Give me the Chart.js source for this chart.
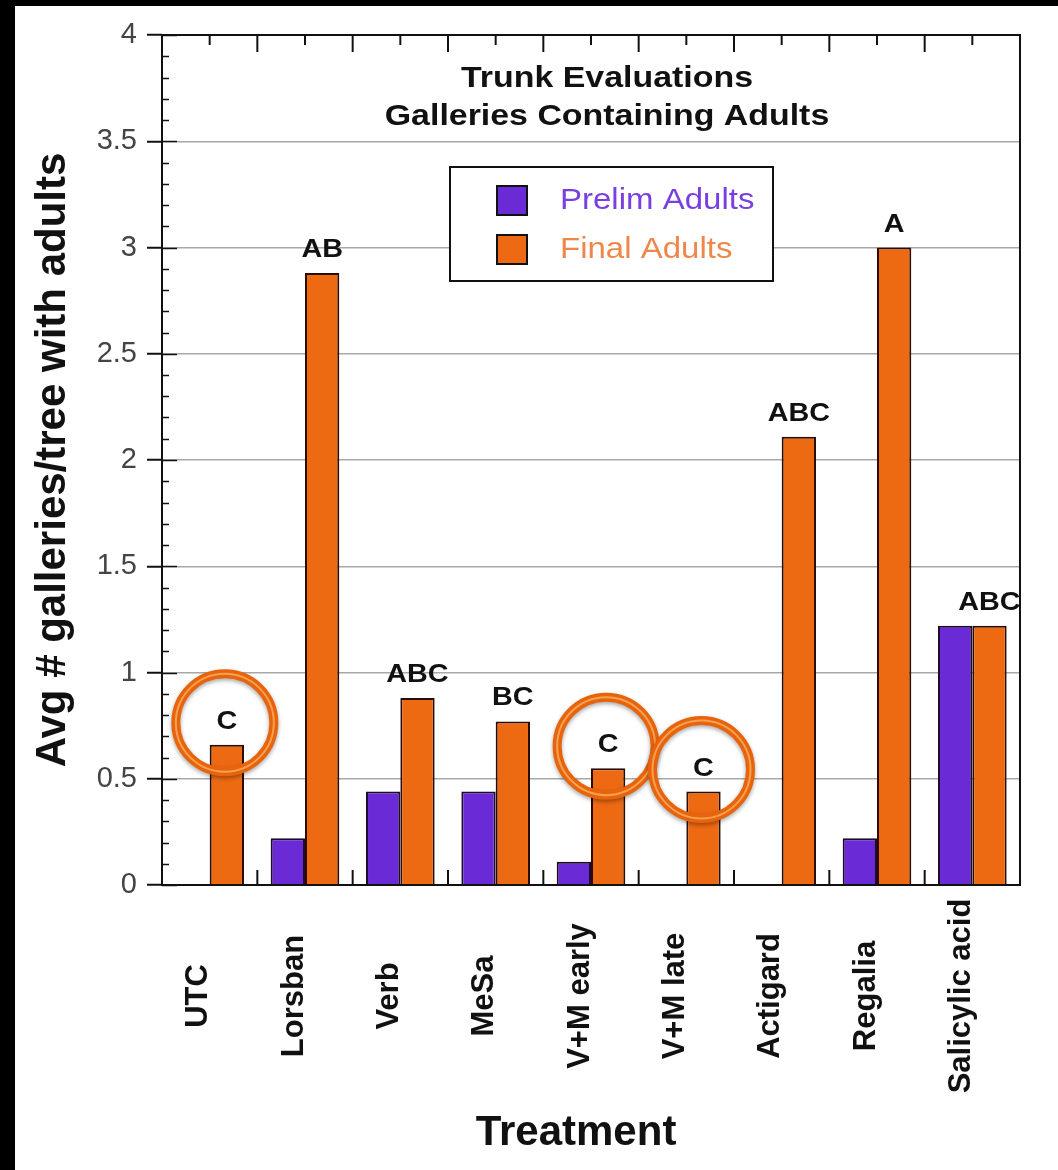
<!DOCTYPE html>
<html>
<head>
<meta charset="utf-8">
<script src="https://cdn.jsdelivr.net/npm/chart.js@4"></script>
<style>
html,body{margin:0;padding:0;background:#fff;}
#wrap{width:1058px;height:1170px;position:relative;}
</style>
</head>
<body>
<div id="wrap"><canvas id="chart_adults"></canvas></div>
<script>
const treatments = ['UTC','Lorsban','Verb','MeSa','V+M early','V+M late','Actigard','Regalia','Salicylic acid'];
const prelimAdults = [0,0.22,0.44,0.44,0.11,0,0,0.22,1.22];
const finalAdults = [0.66,2.88,0.88,0.77,0.55,0.44,2.11,3.0,1.22];
const letters = ['C','AB','ABC','BC','C','C','ABC','A','ABC'];
const circled = ['UTC','V+M early','V+M late'];
const titleLines = ['Trunk Evaluations','Galleries Containing Adults'];
const xTitle = 'Treatment';

const FONT = '"Liberation Sans", Arial, Helvetica, sans-serif';
const purple = '#6a2bd6';
const orange = '#ee6a12';

// text drawn a bit wider, like the original
function wideText(ctx, text, x, y, sx){
  ctx.save();
  ctx.translate(x, y);
  ctx.scale(sx, 1);
  ctx.fillText(text, 0, 0);
  ctx.restore();
}

// frame, box, ticks, labels, legend, circles
const extras = {
  id: 'extras',
  beforeDraw(chart){
    const {ctx, width, height} = chart;
    ctx.save();
    ctx.fillStyle = '#fff';
    ctx.fillRect(0,0,width,height);
    ctx.restore();
  },
  afterDraw(chart){
    const {ctx, chartArea:a, scales:{x, y}} = chart;
    ctx.save();
    // axis box
    ctx.strokeStyle = '#111';
    ctx.lineWidth = 2;
    ctx.strokeRect(a.left, a.top, a.right-a.left, a.bottom-a.top);
    // left minor ticks (inward)
    ctx.lineWidth = 1.5;
    for (let i = 0; i <= 40; i++) {
      const py = Math.round(y.getPixelForValue(i/10)) + 0.5;
      const len = i % 5 === 0 ? 15 : 7;
      ctx.beginPath(); ctx.moveTo(a.left, py); ctx.lineTo(a.left+len, py); ctx.stroke();
    }
    // top and bottom category ticks
    ctx.lineWidth = 2;
    for (let i = 0; i < treatments.length; i++) {
      const c = x.getPixelForTick(i);
      ctx.beginPath(); ctx.moveTo(c, a.top); ctx.lineTo(c, a.top+10); ctx.stroke();
      if (i < treatments.length-1) {
        const b = (c + x.getPixelForTick(i+1))/2;
        ctx.beginPath(); ctx.moveTo(b, a.top); ctx.lineTo(b, a.top+17); ctx.stroke();
        ctx.beginPath(); ctx.moveTo(b, a.bottom); ctx.lineTo(b, a.bottom-15); ctx.stroke();
      }
    }
    // rotated category labels
    ctx.fillStyle = '#111';
    ctx.font = 'bold 31px ' + FONT;
    ctx.textAlign = 'center';
    ctx.textBaseline = 'middle';
    treatments.forEach((t, i) => {
      ctx.save();
      ctx.translate(x.getPixelForTick(i) - 11, 996);
      ctx.rotate(-Math.PI/2);
      ctx.fillText(t, 0, 0);
      ctx.restore();
    });
    // axis title
    ctx.font = 'bold 42px ' + FONT;
    ctx.fillText(xTitle, a.left + 414, 1133);
    // letters above final bars
    const bars = chart.getDatasetMeta(1).data;
    ctx.font = 'bold 25px ' + FONT;
    ctx.textBaseline = 'alphabetic';
    bars.forEach((bar, i) => {
      wideText(ctx, letters[i], bar.x, bar.y - 16, 1.15);
    });
    // title
    ctx.font = 'bold 30px ' + FONT;
    wideText(ctx, titleLines[0], a.left + 445, 87, 1.13);
    wideText(ctx, titleLines[1], a.left + 445, 125, 1.13);
    // legend
    const lx = a.left + 288, ly = a.top + 132;
    ctx.fillStyle = '#fff';
    ctx.fillRect(lx, ly, 323, 114);
    ctx.strokeStyle = '#111';
    ctx.lineWidth = 2;
    ctx.strokeRect(lx, ly, 323, 114);
    const legendItems = [[chart.data.datasets[0].label, purple, '#7a3fe0'],
                         [chart.data.datasets[1].label, orange, '#f0874a']];
    ctx.font = '30px ' + FONT;
    ctx.textAlign = 'left';
    ctx.textBaseline = 'middle';
    legendItems.forEach(([lab, fill, txt], k) => {
      const sy = ly + 19 + k*49;
      ctx.fillStyle = fill;
      ctx.fillRect(lx+47, sy, 30, 29);
      ctx.strokeStyle = '#111';
      ctx.strokeRect(lx+47, sy, 30, 29);
      ctx.fillStyle = txt;
      wideText(ctx, lab, lx+110, sy + 15, 1.1);
    });
    // circled letters
    circled.forEach(name => {
      const i = treatments.indexOf(name);
      const bar = bars[i];
      const cx = bar.x - 2, cy = bar.y - 22;
      ctx.save();
      ctx.shadowColor = 'rgba(0,0,0,0.35)';
      ctx.shadowBlur = 4;
      ctx.shadowOffsetY = 2;
      ctx.strokeStyle = '#e8640c';
      ctx.lineWidth = 9;
      ctx.beginPath(); ctx.arc(cx, cy, 49, 0, Math.PI*2); ctx.stroke();
      ctx.restore();
      ctx.strokeStyle = '#f7a050';
      ctx.lineWidth = 2;
      ctx.beginPath(); ctx.arc(cx, cy, 49, 0, Math.PI*2); ctx.stroke();
    });
    // black frame bands
    ctx.fillStyle = '#000';
    ctx.fillRect(0, 0, chart.width, 6);
    ctx.fillRect(0, 0, 15, chart.height);
    ctx.restore();
  }
};

const ctxAdults = document.getElementById('chart_adults');
new Chart(ctxAdults, {
  type: 'bar',
  data: {
    labels: treatments,
    datasets: [
      {
        label: 'Prelim Adults',
        data: prelimAdults,
        backgroundColor: purple,
        borderColor: '#1e0a2a',
        borderWidth: c => c.raw === 0 ? 0 : 2,
        borderSkipped: 'start'
      },
      {
        label: 'Final Adults',
        data: finalAdults,
        backgroundColor: orange,
        borderColor: '#2a0c02',
        borderWidth: c => c.raw === 0 ? 0 : 2,
        borderSkipped: 'start'
      }
    ]
  },
  options: {
    responsive: true,
    maintainAspectRatio: false,
    animation: false,
    layout: { padding: { top: 35, right: 38, left: 0, bottom: 0 } },
    plugins: {
      legend: { display: false },
      tooltip: { enabled: false }
    },
    datasets: { bar: { categoryPercentage: 0.72, barPercentage: 1.0 } },
    scales: {
      x: {
        grid: { display: false },
        border: { display: false },
        ticks: { display: false },
        afterFit(scale){ scale.height = 285; }
      },
      y: {
        min: 0,
        max: 4,
        border: { display: false },
        grid: {
          color: c => (c.tick.value === 0 || c.tick.value === 4) ? 'rgba(0,0,0,0)' : '#a8a8a8',
          lineWidth: 1.5,
          drawTicks: true,
          tickLength: 15,
          tickColor: '#111',
          tickWidth: 2
        },
        ticks: {
          stepSize: 0.5,
          padding: 10,
          color: '#444',
          font: { family: FONT, size: 29 },
          callback: v => String(v)
        },
        title: {
          display: true,
          text: 'Avg # galleries/tree with adults',
          color: '#111',
          font: { family: FONT, size: 42, weight: 'bold' },
          padding: { top: 28, bottom: 0 }
        },
        afterFit(scale){ scale.width = 162; }
      }
    }
  },
  plugins: [extras]
});
</script>
</body>
</html>
